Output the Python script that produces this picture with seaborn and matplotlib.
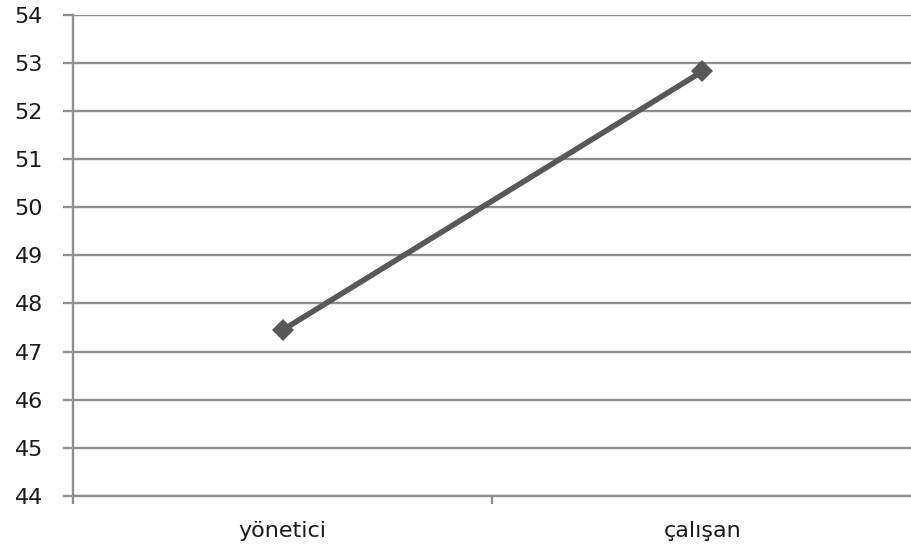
import matplotlib
matplotlib.use("Agg")
import matplotlib.pyplot as plt
import seaborn as sns
import pandas as pd
from matplotlib.ticker import FixedLocator

categories = ["yönetici", "çalışan"]
values = [47.45, 52.82]
y_ticks = list(range(44, 55))

df = pd.DataFrame({"grup": categories, "puan": values})

sns.set_style("white")
plt.rcParams["font.family"] = ["DejaVu Sans"]

fig = plt.figure(figsize=(9.12, 5.46), dpi=100)
ax = fig.add_axes([73 / 912, 1 - 496 / 546, 1 - 73 / 912, (496 - 14.7) / 546])

sns.lineplot(data=df, x="grup", y="puan", ax=ax, color="#585858",
             linewidth=4, marker="D", markersize=11, markeredgewidth=0,
             sort=False)

ax.set_xlim(-0.5, 1.5)
ax.set_ylim(44, 54)
ax.set_yticks(y_ticks)
ax.set_xlabel("")
ax.set_ylabel("")

# horizontal gridlines
ax.yaxis.grid(True, color="#8f8f8f", linewidth=1.7)
ax.xaxis.grid(False)
ax.set_axisbelow(True)

for side in ["top", "right"]:
    ax.spines[side].set_visible(False)
for side in ["left", "bottom"]:
    ax.spines[side].set_color("#8f8f8f")
    ax.spines[side].set_linewidth(1.7)

ax.tick_params(axis="y", which="major", length=7.5, width=1.7, color="#8f8f8f",
               labelsize=16, labelcolor="#1a1a1a", pad=14, left=True)
ax.tick_params(axis="x", which="major", length=0, labelsize=16,
               labelcolor="#1a1a1a", pad=18)
ax.xaxis.set_minor_locator(FixedLocator([-0.5, 0.5]))
ax.tick_params(axis="x", which="minor", length=6, width=1.7, color="#8f8f8f",
               bottom=True)

fig.savefig("out.png", dpi=100)
